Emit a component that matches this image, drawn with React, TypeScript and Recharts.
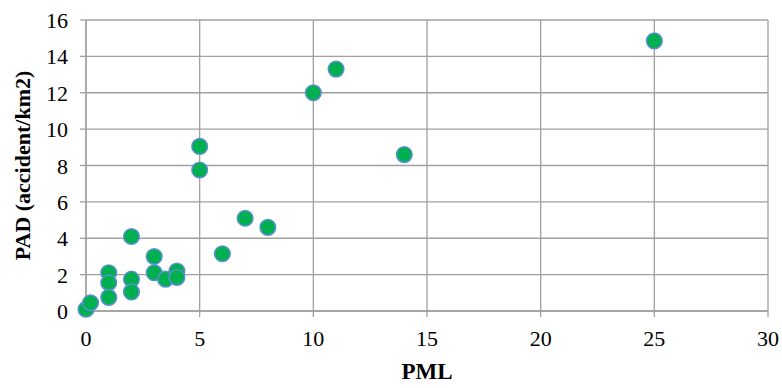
import { ScatterChart, Scatter, XAxis, YAxis, CartesianGrid } from "recharts";

const pml = [0, 0.2, 1, 1, 1, 2, 2, 2, 3, 3, 3.5, 4, 4, 5, 5, 6, 7, 8, 10, 11, 14, 25];
const pad = [0.1, 0.45, 2.1, 1.55, 0.75, 4.1, 1.75, 1.05, 3.0, 2.1, 1.75, 2.2, 1.85, 9.05, 7.75, 3.15, 5.1, 4.6, 12.0, 13.3, 8.6, 14.85];
const xTicks = [0, 5, 10, 15, 20, 25, 30];
const yTicks = [0, 2, 4, 6, 8, 10, 12, 14, 16];

const points = pml.map((x, i) => ({ x, y: pad[i] }));

const font = "'Liberation Serif', 'Times New Roman', serif";
const grid = "#a0a0a0";

const Dot = (props: any) => (
  <circle cx={props.cx} cy={props.cy} r={7.8} fill="#00b050" stroke="#5b8fd0" strokeWidth={1.5} />
);

const XTick = (props: any) => (
  <text
    x={props.x}
    y={props.y}
    dy={20}
    textAnchor="middle"
    style={{ fontFamily: font, fontSize: 22, fill: "#000" }}
  >
    {props.payload.value}
  </text>
);

const YTick = (props: any) => (
  <text
    x={props.x}
    y={props.y}
    dy={8}
    textAnchor="end"
    style={{ fontFamily: font, fontSize: 22, fill: "#000" }}
  >
    {props.payload.value}
  </text>
);

export default function App() {
  return (
    <div style={{ position: "absolute", left: 0, top: 0, background: "#fff", fontFamily: font }}>
      <ScatterChart
        width={782}
        height={388}
        margin={{ top: 20, right: 14, bottom: 6, left: 16 }}
      >
        <CartesianGrid stroke={grid} strokeWidth={1.3} />
        <XAxis
          type="number"
          dataKey="x"
          domain={[0, 30]}
          ticks={xTicks}
          interval={0}
          stroke={grid}
          strokeWidth={1.3}
          tickSize={6}
          height={71}
          tick={XTick}
          tickMargin={9}
          label={{
            value: "PML",
            position: "insideBottom",
            offset: 3,
            fill: "#000",
            style: { fontFamily: font, fontSize: 23, fontWeight: "bold" },
          }}
        />
        <YAxis
          type="number"
          dataKey="y"
          domain={[0, 16]}
          ticks={yTicks}
          interval={0}
          stroke={grid}
          strokeWidth={1.3}
          tickSize={6}
          width={70}
          tick={YTick}
          tickMargin={12}
          label={{
            value: "PAD (accident/km2)",
            angle: -90,
            position: "insideLeft",
            offset: 6,
            fill: "#000",
            style: { textAnchor: "middle", fontFamily: font, fontSize: 22, fontWeight: "bold" },
          }}
        />
        <Scatter data={points} shape={Dot} isAnimationActive={false} />
      </ScatterChart>
    </div>
  );
}
